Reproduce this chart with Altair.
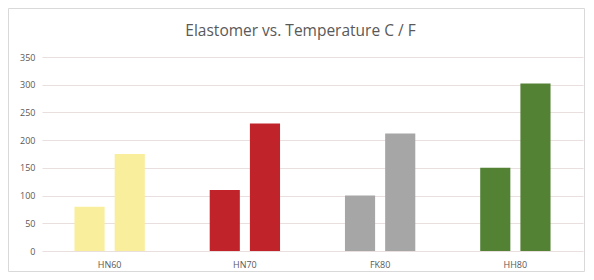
import altair as alt
import pandas as pd

categories = ["HN60", "HN70", "FK80", "HH80"]
celsius = [80, 110, 100, 150]
fahrenheit = [175, 230, 212, 302]
colors = ["#F9EE9C", "#C0242A", "#A6A6A6", "#548235"]
y_ticks = [0, 50, 100, 150, 200, 250, 300, 350]
title_text = ["Elastomer vs. Temperature C / F"]

rows = []
for c, vc, vf in zip(categories, celsius, fahrenheit):
    rows.append({"cat": c, "series": "C", "value": vc})
    rows.append({"cat": c, "series": "F", "value": vf})
df = pd.DataFrame(rows)

W, H = 541, 194

bars = alt.Chart(df).mark_bar().encode(
    x=alt.X("cat:N", sort=categories, title=None,
            scale=alt.Scale(paddingInner=0.48, paddingOuter=0.24),
            axis=alt.Axis(labelAngle=0, domain=False, ticks=False, labelPadding=9,
                          labelFontSize=9, labelColor="#595959", labelFont="Open Sans")),
    xOffset=alt.XOffset("series:N", sort=["C", "F"], scale=alt.Scale(paddingInner=0.25)),
    y=alt.Y("value:Q", title=None,
            scale=alt.Scale(domain=[0, 350], nice=False),
            axis=alt.Axis(values=y_ticks, domain=False, ticks=False, labelPadding=7,
                          labelFontSize=9, labelColor="#595959", labelFont="Open Sans",
                          gridColor="#E9DFDF", gridWidth=1.2)),
    color=alt.Color("cat:N", scale=alt.Scale(domain=categories, range=colors), legend=None),
)

border = alt.Chart(pd.DataFrame({"a": [0]})).mark_rect(
    fill=None, stroke="#D9D9D9", strokeWidth=1
).encode(
    x=alt.value(-33.5), x2=alt.value(W + 1.5), y=alt.value(-48.5), y2=alt.value(H + 20.5)
)

title = alt.Chart(pd.DataFrame({"t": title_text})).mark_text(
    font="Open Sans", fontSize=15.5, color="#595959", align="center", baseline="middle"
).encode(
    text="t:N", x=alt.value(W / 2 - 12), y=alt.value(-26)
)

chart = alt.layer(border, bars, title).properties(
    width=W, height=H,
    autosize=alt.AutoSizeParams(type="none"),
    padding={"left": 34, "top": 49, "right": 2, "bottom": 21},
    background="white",
).configure_view(stroke=None)

chart.save("out.html", embed_options={"renderer": "svg", "actions": False})
